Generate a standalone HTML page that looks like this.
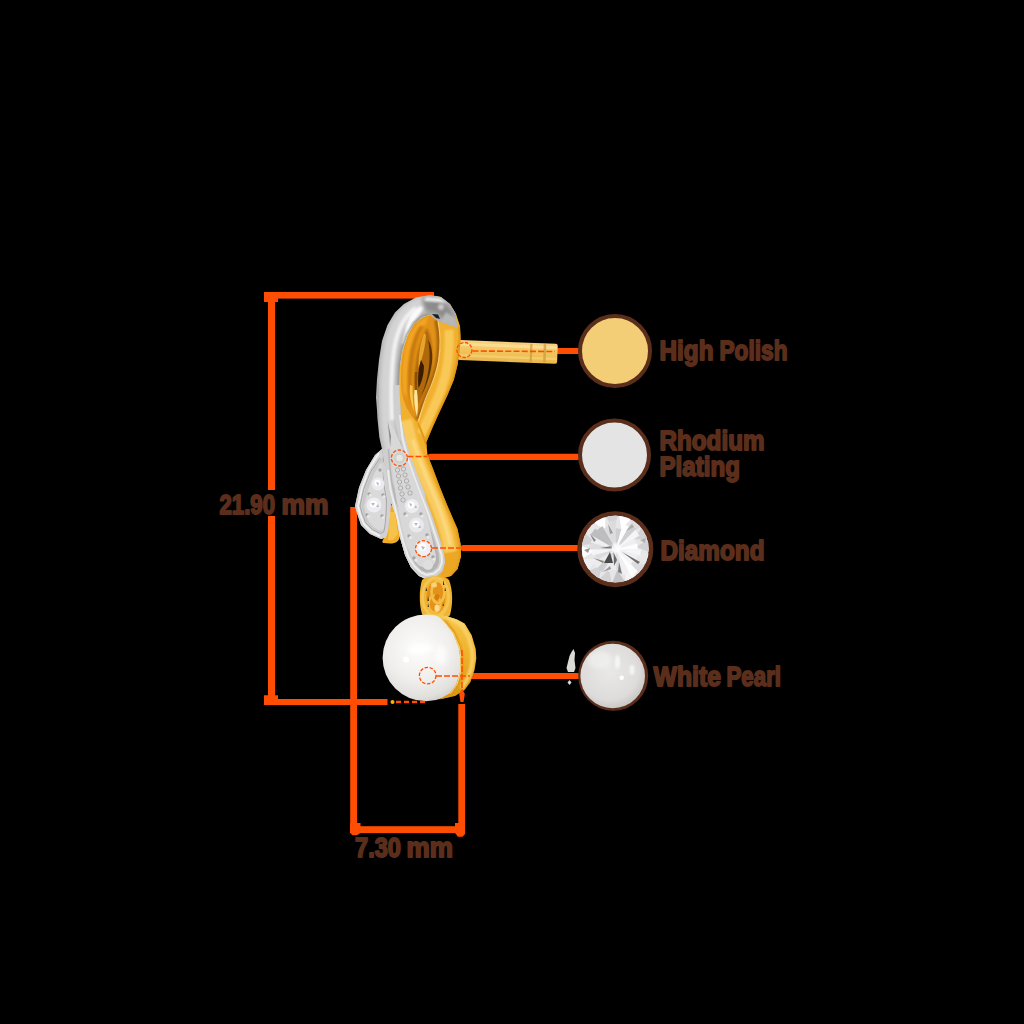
<!DOCTYPE html>
<html>
<head>
<meta charset="utf-8">
<title>Earring dimensions</title>
<style>
html,body{margin:0;padding:0;background:#000;}
body{width:1024px;height:1024px;overflow:hidden;font-family:"Liberation Sans",sans-serif;}
svg{display:block;}
text{font-family:"Liberation Sans",sans-serif;font-weight:bold;fill:#5b2e1c;stroke:#5b2e1c;stroke-width:1.8px;stroke-linejoin:round;}
</style>
</head>
<body>
<svg width="1024" height="1024" viewBox="0 0 1024 1024">
<defs>
  <linearGradient id="silverV" x1="0" y1="0" x2="1" y2="0">
    <stop offset="0" stop-color="#9a9a9a"/>
    <stop offset="0.25" stop-color="#e9e9e9"/>
    <stop offset="0.6" stop-color="#c9c9c9"/>
    <stop offset="1" stop-color="#8d8d8d"/>
  </linearGradient>
  <linearGradient id="goldR" x1="0" y1="0" x2="1" y2="0">
    <stop offset="0" stop-color="#e8a21c"/>
    <stop offset="0.5" stop-color="#fbc94a"/>
    <stop offset="1" stop-color="#e09a12"/>
  </linearGradient>
  <linearGradient id="goldIn" x1="0" y1="0" x2="1" y2="0">
    <stop offset="0" stop-color="#c97a08"/>
    <stop offset="0.45" stop-color="#f2a51c"/>
    <stop offset="1" stop-color="#f7b93a"/>
  </linearGradient>
  <linearGradient id="postG" x1="0" y1="0" x2="0" y2="1">
    <stop offset="0" stop-color="#f7d380"/>
    <stop offset="0.45" stop-color="#f3c55e"/>
    <stop offset="1" stop-color="#eab84a"/>
  </linearGradient>
  <radialGradient id="pearlG" cx="0.42" cy="0.4" r="0.65">
    <stop offset="0" stop-color="#fdfdfc"/>
    <stop offset="0.55" stop-color="#f0efed"/>
    <stop offset="0.85" stop-color="#e2e0dd"/>
    <stop offset="1" stop-color="#cdcbc7"/>
  </radialGradient>
  <radialGradient id="pearlS" cx="0.45" cy="0.42" r="0.6">
    <stop offset="0" stop-color="#e9e9e7"/>
    <stop offset="0.75" stop-color="#dddcda"/>
    <stop offset="1" stop-color="#c8c6c3"/>
  </radialGradient>
  <linearGradient id="capG" x1="0" y1="0" x2="0" y2="1">
    <stop offset="0" stop-color="#f7c648"/>
    <stop offset="0.5" stop-color="#eeb02a"/>
    <stop offset="1" stop-color="#d99512"/>
  </linearGradient>
</defs>

<rect width="1024" height="1024" fill="#000"/>

<!-- ======== dimension lines ======== -->
<g id="dims" fill="#ff4e03">
  <rect x="264" y="292" width="170" height="6.6"/>
  <path d="M264,294.5 L266.5,292 L278,292 L278,302 L264,302 Z"/>
  <rect x="268" y="292" width="7" height="413"/>
  <rect x="264" y="699" width="123.5" height="6"/>
  <path d="M264,695.3 L278,695.3 L278,705 L266.5,705 L264,702.5 Z"/>
  <rect x="350.2" y="507" width="6.8" height="326"/>
  <rect x="458.3" y="704" width="6.7" height="129"/>
  <rect x="350.2" y="826.2" width="114.8" height="6.8"/>
  <path d="M350.2,823 L360.5,823 L360.5,833 L357,835.3 L352.5,835.3 L350.2,833 Z"/>
  <path d="M455,823 L465,823 L465,834 L462.5,836.8 L458,836.8 L455,833 Z"/>
</g>
<rect x="214" y="490" width="120" height="26" fill="#000"/>

<!-- ======== callout lines ======== -->
<g id="callouts" stroke="#ff4e03" stroke-width="6.2" stroke-linecap="round" fill="none">
  <path d="M558,351 L577,351"/>
  <path d="M430.5,456.8 L577,456.8"/>
  <path d="M463.5,548 L577,548"/>
  <path d="M473,676 L577,676"/>
</g>

<!-- ======== earring ======== -->
<g id="earring">
  <defs>
    <filter id="b1" x="-20%" y="-20%" width="140%" height="140%"><feGaussianBlur stdDeviation="1"/></filter>
    <filter id="b2" x="-20%" y="-20%" width="140%" height="140%"><feGaussianBlur stdDeviation="2"/></filter>
    <filter id="b05" x="-20%" y="-20%" width="140%" height="140%"><feGaussianBlur stdDeviation="0.5"/></filter>
    <clipPath id="clipSilver"><path d="M430,295 L416,297.5 L404,304 L395,312.5 L387.5,325 L382,341 L379,360 L377,379 L376,397.5 L377,410 L377.5,419 L379.4,437.5 L382,449 L384,462.5 L386,481 L390,500 L396,515 L400,537.5 L405,555 L411,567.5 L419,576 L426,579 L435,577.5 L442.5,571 L445,562.5 L444,554 L441,542.5 L436,527.5 L431,512.5 L426,500 L425,494 L417.5,475 L410,455 L405,437.5 L401,419 L400,400 L399.5,385 L400,366 L402.5,350 L407.5,335 L414,324 L422.5,317 L430,315 L437.5,321 L457,327.5 L456,314 L450,304 L441,297 L436,296 Z"/></clipPath>
    <clipPath id="clipGold"><path d="M430,296 L436,296 L441,297 L450,304 L456,314 L460,326 L460.6,339 L459.5,352 L457.5,365 L453.75,380 L447.5,395 L440,411 L432.5,427.5 L426.25,442.5 L427.5,455 L432.5,467.5 L440,487.5 L447.5,506 L454,521 L457.5,529 L460.6,544 L461,556 L457.5,569 L451,576 L444,578 L436,579 L428,572 L430,560 L410,500 L395,450 L390,400 L400,330 Z"/></clipPath>
    <clipPath id="clipTear"><path d="M430,315.5 C425,315.5 418,320 413,326 C407,335 403,348 401.5,366 C400.5,380 401,392 404,401 C407,410 412,417 417,422.5 C420,414 425,402 429,392 C434,380 438.5,366 440,350 C441,338 439.5,326 437.5,321 C435.5,317.5 433,315.5 430,315.5 Z"/></clipPath>
    <clipPath id="clipTail"><path d="M382,449 L375,455 L366,470 L359,487.5 L355,506 L357,513 L361,525 L370,534 L381,539 L386,537.5 L388,531 L390,515 L391,500 L388,485 L386,470 L384,462.5 Z"/></clipPath>
  </defs>
  <!-- post -->
  <g transform="rotate(2.2 459 350)">
    <rect x="458" y="340" width="99.5" height="20" rx="2" fill="url(#postG)"/>
    <rect x="458" y="342.5" width="99" height="3" fill="#fbe09a" opacity="0.8"/>
    <rect x="458" y="354" width="99" height="2.5" fill="#f7d27a" opacity="0.7"/>
    <rect x="530" y="341" width="2.2" height="18" fill="#c99a3a" opacity="0.7"/>
    <rect x="543.5" y="341" width="2.5" height="18" fill="#c99a3a" opacity="0.7"/>
  </g>

  <!-- gold body -->
  <path id="goldBody" fill="#f1b030" d="M430,296 L436,296 L441,297 L450,304 L456,314 L460,326 L460.6,339 L459.5,352 L457.5,365 L453.75,380 L447.5,395 L440,411 L432.5,427.5 L426.25,442.5 L427.5,455 L432.5,467.5 L440,487.5 L447.5,506 L454,521 L457.5,529 L460.6,544 L461,556 L457.5,569 L451,576 L444,578 L436,579 L428,572 L430,560 L410,500 L395,450 L390,400 L400,330 Z"/>
  <g clip-path="url(#clipGold)">
    <!-- lighter stripe along upper right band -->
    <path fill="none" stroke="#f9c958" stroke-width="9" filter="url(#b1)" d="M449,330 C450,350 448,370 441,390 C435,405 428,420 421,434"/>
    <!-- darker right edge -->
    <path fill="none" stroke="#d98f10" stroke-width="3" filter="url(#b1)" d="M460,326 L460.6,339 L459.5,352 L457.5,365 L453.75,380 L447.5,395 L440,411 L432.5,427.5 L426.25,442.5"/>
    <!-- lower band: light stripe -->
    <path fill="none" stroke="#f9cb5e" stroke-width="12" filter="url(#b1)" d="M406,420 C410,440 418,462 428,485 C438,508 447,528 450,552"/>
    <path fill="none" stroke="#fcdc86" stroke-width="3" filter="url(#b1)" d="M413,440 C418,458 426,476 434,495 C441,512 447,528 450,545"/>
    <path fill="none" stroke="#dc9312" stroke-width="3" filter="url(#b1)" d="M427.5,455 L432.5,467.5 L440,487.5 L447.5,506 L454,521 L457.5,529 L460.6,544 L461,556 L457.5,569 L451,576"/>
    <!-- crossing crease -->
    <path fill="none" stroke="#e39a18" stroke-width="2" filter="url(#b05)" d="M418,423 C421,430 424,438 427,447"/>
    <!-- bottom right gold end -->
    <path fill="#e9a21c" d="M444,554 L462,550 L462,580 L440,580 Z" opacity="0.6"/>
  </g>
  <!-- small gold under left tail -->
  <path fill="#f0ac26" d="M388,503 L396,508 L400,535 C400,541 396,543.5 390,543.5 L384,543 C381.5,543 382,540.5 385,537 Z"/>
  <path fill="#f7c24a" d="M390,512 L395,512 L398,534 L393,540 L388,540 Z"/>

  <!-- inner teardrop -->
  <path id="tear" fill="#e29218" d="M430,315.5 C425,315.5 418,320 413,326 C407,335 403,348 401.5,366 C400.5,380 401,392 404,401 C407,410 412,417 417,422.5 C420,414 425,402 429,392 C434,380 438.5,366 440,350 C441,338 439.5,326 437.5,321 C435.5,317.5 433,315.5 430,315.5 Z"/>
  <g clip-path="url(#clipTear)">
    <path fill="#f2a424" filter="url(#b1)" d="M428,316 L418,322 L409,334 L404,352 L402,372 L403,392 L406.5,398 L408,372 L411,350 L417,334 L426,324 Z"/>
    <path fill="#c5780c" filter="url(#b1)" d="M420,326 C413,336 409,352 408,372 C407.5,388 409,398 412,406 C411,392 411.5,372 414,355 C416,342 419,333 424,326 Z"/>
    <path fill="none" stroke="#a8650a" stroke-width="5.5" filter="url(#b1)" d="M437,320 C440,334 440,348 438,361 C436,373 431.5,385 426.5,396 C424,402 421,410 418,420"/>
    <path fill="#b0680a" filter="url(#b1)" d="M427,328 C420,340 415.5,358 414.5,375 C414,390 415,400 417,408 C422.5,398 429,384 431.5,370 C433.5,354 432,338 427,328 Z"/>
    <path fill="#e9a42c" filter="url(#b05)" d="M424,333 C420,344 418,358 418.5,368 C422,360 425.5,346 426,335 Z"/>
    <path fill="#5a3205" filter="url(#b05)" d="M428,340 C430.5,352 430,366 426.5,380 C424.5,388 422,394 420,398 C424,392 430.5,376 432,362 C433,352 431,344 428,340 Z"/>
    <path fill="#3a1d00" filter="url(#b05)" d="M421,360 C418.5,368 417.5,378 418.5,388 C421.5,383 424,374 424,366 Z"/>
    <path fill="#8a4f06" filter="url(#b05)" d="M415,372 C414,382 415,392 416.5,398 C417,390 417,380 417.5,372 Z"/>
    <path fill="#ffe79a" filter="url(#b05)" d="M414.5,390 C413.5,398 414.5,408 417,417 C418.5,408 418,398 416.8,390 Z"/>
    <path fill="#f9c24a" filter="url(#b05)" d="M410,385 C409,394 411,404 414,411 C413,402 412.5,394 412.5,386 Z"/>
  </g>
  <path fill="none" stroke="#ffd76e" stroke-width="1.2" opacity="0.9" d="M438,321.5 C440.6,334 440.6,348 438.6,360.5 C436.6,372.5 432,384.5 427,395.5 C424.5,401.5 421.5,410.5 418.5,421"/>

  <!-- silver loop + band -->
  <path id="silverMain" fill="#b2b2b2" d="M430,295 L416,297.5 L404,304 L395,312.5 L387.5,325 L382,341 L379,360 L377,379 L376,397.5 L377,410 L377.5,419 L379.4,437.5 L382,449 L384,462.5 L386,481 L390,500 L396,515 L400,537.5 L405,555 L411,567.5 L419,576 L426,579 L435,577.5 L442.5,571 L445,562.5 L444,554 L441,542.5 L436,527.5 L431,512.5 L426,500 L425,494 L417.5,475 L410,455 L405,437.5 L401,419 L400,400 L399.5,385 L400,366 L402.5,350 L407.5,335 L414,324 L422.5,317 L430,315 L437.5,321 L457,327.5 L456,314 L450,304 L441,297 L436,296 Z"/>
  <g clip-path="url(#clipSilver)">
    <!-- tube shading: broad light band -->
    <path fill="none" stroke="#d4d4d4" stroke-width="15" filter="url(#b2)" d="M424,303 C408,308 396,322 391,345 C387,368 386,395 388,425 C390,445 394,465 400,485"/>
    <path fill="none" stroke="#f2f2f2" stroke-width="4" filter="url(#b1)" d="M416,308 C404,316 397,330 394,350 C391,372 391,398 392,420"/>
    <path fill="#fbfbfb" filter="url(#b1)" d="M406,326 L411,314 L419,306.5 L424,307 L420,314 L414,322 L410,334 L406,345 L402,344 Z"/>
    <!-- dark inner edge -->
    <path fill="none" stroke="#8f8f8f" stroke-width="3" filter="url(#b1)" d="M430,315 L422.5,317 L414,324 L407.5,335 L402.5,350 L400,366 L399.5,385 L400,400 L401,419 L405,437.5"/>
    <path fill="none" stroke="#ececec" stroke-width="1.2" d="M430,315.6 L422.5,317.6 L414.5,324.5 L408,335.5 L403,350 L400.6,366 L400.1,385 L400.6,400 L401.6,419 L405.5,437.5 L410.5,455 L418,475 L425.5,494"/>
    <!-- top dark -->
    <path fill="#8c8c8c" filter="url(#b2)" d="M422,299 L440,299 L452,310 L455,322 L446,322 L436,313 L426,311 Z"/>
    <path fill="#b8b8b8" filter="url(#b1)" d="M446,312 L455,318 L457,328 L440,322 Z"/>
    <path fill="#e8e8e8" filter="url(#b1)" d="M426,297 L440,298 L447,303 L436,302 L424,301 Z"/>
    <circle cx="441" cy="307" r="3" fill="#c9c9c9" filter="url(#b1)"/>
    <path fill="#1c1c1c" filter="url(#b05)" d="M432,314 L438,314.5 L440,319 L436,318 Z"/>
    <!-- lower band rim -->
    <path fill="none" stroke="#cfcfcf" stroke-width="12.5" stroke-linejoin="round" d="M383,449 L384,462.5 L386,481 L390,500 L396,515 L400,537.5 L405,555 L411,567.5 L419,576 L426,579 L435,577.5 L442.5,571 L445,562.5 L444,554 L441,542.5 L436,527.5 L431,512.5 L426,500 L425,494 L417.5,475 L410,455 L405,437.5 L401,419 L400,400 L399.5,385"/>
    <path fill="none" stroke="#b5b5b5" stroke-width="1.5" d="M388.5,449 L389.5,462 L391.5,481 L395.5,500 L401.5,515 L405.5,537 L410.5,553 L416,563.5 L421.5,569.5 L426,571.5 L432.5,570.5 L436.5,566.5 L438.5,562 L438,554.5 L435,544.5 L430,529.5 L425,514.5 L420,502 L419,496 L411.5,477 L404,457 L399.5,440"/>
    <path fill="none" stroke="#ececec" stroke-width="2" filter="url(#b05)" d="M388,470 L390.5,490 L395,507 L399,525 L403,541 L408,556 L414,566 L421,572.5 L426.5,575 L434,573.5 L439.5,569 L442,562 L441.5,555 L438,543 L433,528 L428,513 L423,500 L415,479 L408,459 L402.5,438 L400,415"/>
    <path fill="none" stroke="#fafafa" stroke-width="1.5" d="M385.5,481 L389.5,500 L395.5,515 L399.5,537.5 L404.5,555 L410.5,567.5 L418.5,576.3 L426,579.2 L435.5,577.8"/>
  </g>

  <!-- left tail -->
  <path id="silverTail" fill="#c9c9c9" d="M382,449 L375,455 L366,470 L359,487.5 L355,506 L357,513 L361,525 L370,534 L381,539 L386,537.5 L388,531 L390,515 L391,500 L388,485 L386,470 L384,462.5 Z"/>
  <g clip-path="url(#clipTail)">
    <path fill="none" stroke="#d2d2d2" stroke-width="12" stroke-linejoin="round" d="M382,449 L375,455 L366,470 L359,487.5 L355,506 L357,513 L361,525 L370,534 L381,539 L386,537.5 L388,531 L390,515 L391,500 L388,485 L386,470 L384,462.5"/>
    <path fill="none" stroke="#f0f0f0" stroke-width="2" filter="url(#b05)" d="M379,453 L369,469 L362,488 L358,506 L360,514 L364,524 L371,531.5 L380,536"/>
    <path fill="none" stroke="#a6a6a6" stroke-width="1" d="M380,458 L370.5,472 L363.5,489.5 L360,506 L362,513 L365.5,522.5 L372.5,529.5 L380.5,533.5 L383.5,532 L384.5,529 L386,515 L386.5,500 L384,486 L382.5,472"/>
  </g>
</g>

<g id="lower">
  <!-- pave: main band channel -->
  <path fill="#d8d8d8" d="M387.8,420 L388.5,428 L389.8,440 L391.2,455 L393,470 L394.5,487.5 L397.5,505 L401.5,525 L406.5,545 L412,557.5 L418.5,565.5 L426,568.5 L432,566.5 L435.5,562 L436,555 L433.5,545 L430,528 L424.5,507 L417.5,487.5 L411,470 L405,455 L399,440 L393,428 Z"/>
    <path fill="#8d8d8d" d="M387.6,421 L389,434 L390.2,447 L391,436 Z"/>
  <!-- milgrain beads -->
  <g fill="#d9d9d9" stroke="#8f8f8f" stroke-width="0.6">
    <circle cx="397.5" cy="470" r="2.2"/><circle cx="403.5" cy="469" r="2.2"/>
    <circle cx="398.5" cy="476" r="2.2"/><circle cx="405" cy="475" r="2.2"/>
    <circle cx="399.5" cy="482" r="2.2"/><circle cx="406.5" cy="481" r="2.2"/>
    <circle cx="400.5" cy="488" r="2.2"/><circle cx="408" cy="487" r="2.2"/>
    <circle cx="402" cy="494" r="2.2"/><circle cx="410" cy="493" r="2.2"/>
    <circle cx="403" cy="500" r="2.2"/>
  </g>
  <!-- diamonds main band -->
  <g>
    <circle cx="399.5" cy="458" r="5.5" fill="#cfcfcb"/>
    <circle cx="399.5" cy="458" r="3.2" fill="#e6e6e2"/>
    <circle cx="412" cy="506" r="7" fill="#ededf0"/>
    <circle cx="416.5" cy="525" r="7.5" fill="#e9e9ed"/>
    <circle cx="423" cy="548" r="8" fill="#f0f0f4"/>
    <circle cx="428" cy="565" r="5" fill="#dedede"/>
    <g fill="#ffffff">
      <circle cx="411" cy="505" r="3.4"/><circle cx="416" cy="524" r="3.6"/><circle cx="422.5" cy="547" r="3.8"/>
    </g>
    <g fill="#b9b9c2">
      <path d="M409,503 l3,1 l-1,3 z"/><path d="M414,523 l4,0 l-2,3 z"/><path d="M421,546 l4,1 l-2,3 z"/>
      <path d="M414,508 l2,-3 l1,3 z"/><path d="M418,528 l2,-3 l1,3 z"/>
    </g>
    <g fill="#a3a3a3">
      <circle cx="405" cy="514" r="1.7"/><circle cx="421" cy="514" r="1.7"/>
      <circle cx="409" cy="536" r="1.7"/><circle cx="427" cy="535" r="1.7"/>
      <circle cx="414" cy="558" r="1.7"/><circle cx="433" cy="557" r="1.7"/>
    </g>
    <g fill="#e8e8e8">
      <circle cx="406.5" cy="515.5" r="1.6"/><circle cx="422" cy="516" r="1.6"/>
      <circle cx="410.5" cy="537.5" r="1.6"/><circle cx="428" cy="537" r="1.6"/>
      <circle cx="416" cy="560" r="1.6"/><circle cx="434" cy="559" r="1.6"/>
    </g>
  </g>
  <!-- pave: left tail -->
  <path fill="#dadada" d="M381,463 L374.5,473 L368,490 L364,506 L365.5,514 L368.5,521.5 L374,527.5 L380,530.5 L383.5,529 L385,520 L385.5,503 L384,488 L382.5,472 Z"/>
  <g>
    <circle cx="378" cy="484" r="6.5" fill="#ebebef"/>
    <circle cx="374" cy="505" r="7.5" fill="#eeeef2"/>
    <circle cx="377.5" cy="483" r="3.2" fill="#fff"/>
    <circle cx="373.5" cy="504" r="3.6" fill="#fff"/>
    <circle cx="377" cy="523" r="3.5" fill="#dadada"/>
    <g fill="#b9b9c2"><path d="M376,482 l3,1 l-1,3 z"/><path d="M371,503 l4,0 l-2,3 z"/><path d="M376,507 l2,-3 l1,3 z"/></g>
    <g fill="#a3a3a3">
      <circle cx="369" cy="494" r="1.7"/><circle cx="383" cy="495" r="1.7"/>
      <circle cx="367" cy="515" r="1.7"/><circle cx="382" cy="516" r="1.7"/>
      <circle cx="380" cy="470" r="1.7"/>
    </g>
    <g fill="#e8e8e8">
      <circle cx="370.2" cy="495.3" r="1.5"/><circle cx="384" cy="496.5" r="1.5"/>
      <circle cx="368.3" cy="516.3" r="1.5"/><circle cx="383" cy="517.5" r="1.5"/>
    </g>
  </g>

  <!-- jump ring / chain -->
  <g>
    <path fill="#efb434" d="M422,580 C419,590 419,604 422,614 C426,620 446,621 450,615 C453,604 453,590 449,580 C443,575 428,575 422,580 Z"/>
    <ellipse cx="436" cy="597" rx="9.5" ry="16" fill="#e4921a"/>
    <ellipse cx="435.5" cy="597" rx="13" ry="19" fill="none" stroke="#f5c552" stroke-width="3"/>
    <ellipse cx="438" cy="592" rx="6.5" ry="11" fill="none" stroke="#f4bf48" stroke-width="2.6"/>
    <ellipse cx="434.5" cy="604" rx="6" ry="8.5" fill="none" stroke="#f3bb40" stroke-width="2.6"/>
    <ellipse cx="437" cy="608" rx="2.5" ry="3.5" fill="#f9dc8e"/>
    <ellipse cx="434" cy="585" rx="3" ry="2.5" fill="#f7d277"/>
    <path d="M426,587 l1.2,4 l-1.5,0 z M428,596 l1,5 l-1.5,0 z M443,580 l1.5,5 l-1.5,0 z M445,587 l1,4 l-1.4,0 z M428,603 l1,4 l-1.3,0z M443,603 l1,3 l-1.3,0z" fill="#3a2a08"/>
    <ellipse cx="437" cy="597" rx="2.5" ry="3" fill="#d47e0c"/>
  </g>

  <!-- pearl -->
  <circle cx="426" cy="657.8" r="43.4" fill="url(#pearlG)"/>
  <ellipse cx="420" cy="649" rx="13" ry="5" fill="#ffffff" opacity="0.9" filter="url(#b2)" transform="rotate(-6 420 649)"/>
  <circle cx="406" cy="659.5" r="3" fill="#ffffff" filter="url(#b05)"/>
  <ellipse cx="441" cy="655" rx="6" ry="10" fill="#ffffff" opacity="0.7" filter="url(#b2)"/>
  <!-- pearl cap -->
  <path id="capShape" fill="url(#capG)" d="M438,616 L441,615 L448,616.4 L457,619.5 L464.5,623.4 L471.6,635 L475.7,649 L476.3,658.6 L474.5,670 L470.4,682 L464.5,690 L455,696 L443.4,698.5 L439,699.6 L449.3,693.8 L456.3,684.4 L459.9,672.7 L460.4,658.6 L458.7,646.9 L452.8,632.8 L443.4,621 Z"/>
  <clipPath id="clipCap"><path d="M438,616 L441,615 L448,616.4 L457,619.5 L464.5,623.4 L471.6,635 L475.7,649 L476.3,658.6 L474.5,670 L470.4,682 L464.5,690 L455,696 L443.4,698.5 L439,699.6 L449.3,693.8 L456.3,684.4 L459.9,672.7 L460.4,658.6 L458.7,646.9 L452.8,632.8 L443.4,621 Z"/></clipPath>
  <g clip-path="url(#clipCap)">
    <path fill="none" stroke="#dd9616" stroke-width="5" filter="url(#b1)" d="M443.4,621 L452.8,632.8 L458.7,646.9 L460.4,658.6 L459.9,672.7 L456.3,684.4 L449.3,693.8 L441,698.5"/>
    <path fill="none" stroke="#f8cf66" stroke-width="4" filter="url(#b1)" d="M452,619 L462,626 L468.5,637 L472,650 L472.5,659 L471,669 L467,680 L461.5,688"/>
    <path fill="#f9d574" filter="url(#b1)" d="M441,615 L448,616.4 L457,619.5 L464.5,623.4 L468,629 L458,623 L447,619 Z"/>
    <path fill="#d38f10" filter="url(#b2)" d="M440,703 L455,699 L466,691 L472,679 L476,679 L470,695 L455,704 Z"/>
  </g>
  <path fill="none" stroke="#fbe092" stroke-width="1" opacity="0.9" d="M444,621.3 L453.4,633 L459.3,647 L461,658.6 L460.5,672.7 L457,684.4 L450,693.8"/>
</g>

<!-- dashed callout details -->
<g id="dashes" fill="none" stroke="#ff4e03">
  <circle cx="464.4" cy="350" r="7.5" stroke-width="1.3" stroke-dasharray="3.5 1.6"/>
  <path d="M472.5,351 L555,351.5" stroke-width="1.6" stroke-dasharray="6 2.2"/>
  <circle cx="399.4" cy="458" r="8" stroke-width="1.3" stroke-dasharray="3.5 1.6"/>
  <path d="M407.5,456.5 L427.5,456.5" stroke-width="1.4" stroke-dasharray="6 2"/>
  <circle cx="423.5" cy="548.7" r="8" stroke-width="1.3" stroke-dasharray="3.5 1.6"/>
  <path d="M432,548 L460.6,548" stroke-width="1.4" stroke-dasharray="6 2"/>
  <circle cx="427.7" cy="675.6" r="8.3" stroke-width="1.3" stroke-dasharray="3.5 1.6"/>
  <path d="M436,676 L470,676" stroke-width="1.6" stroke-dasharray="6 2"/>
  <path d="M462,650 L462,688" stroke-width="1.6" stroke-dasharray="6 2"/>
  <path d="M396,702 L427,702" stroke-width="2.4" stroke-dasharray="5 3"/>
</g>
<g fill="#ff4e03">
  <path d="M462,688.5 L464.8,694 L463.5,702 L460.5,702 L459.2,694 Z"/>
  <circle cx="392.5" cy="702" r="2" fill="#ffb000"/>
</g>

<!-- ======== swatches ======== -->
<g id="swatches">
  <circle cx="615" cy="351" r="35" fill="#f3ce77" stroke="#5b2e1c" stroke-width="4"/>
  <circle cx="614.5" cy="455" r="34.5" fill="#e4e4e4" stroke="#5b2e1c" stroke-width="4"/>
  <circle cx="615.3" cy="549.2" r="35.5" fill="#e0e0e0" stroke="#5b2e1c" stroke-width="5"/>
  <clipPath id="clipDia"><circle cx="615.3" cy="549" r="33.5"/></clipPath>
  <g clip-path="url(#clipDia)">
  <circle cx="615.3" cy="549" r="33.5" fill="#e6e6e6"/>
  <path d="M650.3,552.5 L646.3,565.6 L635.2,555.1 Z" fill="#e8e8eb"/>
  <path d="M646.3,565.6 L637.6,576.2 L631.3,562.2 Z" fill="#dcdcdf"/>
  <path d="M637.6,576.2 L625.4,582.7 L625.1,567.3 Z" fill="#f4f4f7"/>
  <path d="M625.4,582.7 L611.8,584.0 L617.3,569.7 Z" fill="#c4c4c7"/>
  <path d="M611.8,584.0 L598.7,580.0 L609.2,568.9 Z" fill="#d2d2d5"/>
  <path d="M598.7,580.0 L588.1,571.3 L602.1,565.0 Z" fill="#d2d2d5"/>
  <path d="M588.1,571.3 L581.6,559.1 L597.0,558.8 Z" fill="#eeeef1"/>
  <path d="M581.6,559.1 L580.3,545.5 L594.6,551.0 Z" fill="#ffffff"/>
  <path d="M580.3,545.5 L584.3,532.4 L595.4,542.9 Z" fill="#d2d2d5"/>
  <path d="M584.3,532.4 L593.0,521.8 L599.3,535.8 Z" fill="#e8e8eb"/>
  <path d="M593.0,521.8 L605.2,515.3 L605.5,530.7 Z" fill="#ffffff"/>
  <path d="M605.2,515.3 L618.8,514.0 L613.3,528.3 Z" fill="#d2d2d5"/>
  <path d="M618.8,514.0 L631.9,518.0 L621.4,529.1 Z" fill="#ffffff"/>
  <path d="M631.9,518.0 L642.5,526.7 L628.5,533.0 Z" fill="#dcdcdf"/>
  <path d="M642.5,526.7 L649.0,538.9 L633.6,539.2 Z" fill="#d2d2d5"/>
  <path d="M649.0,538.9 L650.3,552.5 L636.0,547.0 Z" fill="#d2d2d5"/>
  <path d="M615.9,549.3 L641.1,549.3 L640.2,555.8 Z" fill="#f6f6f8" opacity="0.9"/>
  <path d="M615.9,549.3 L638.0,555.2 L635.8,560.8 Z" fill="#f0f0f2" opacity="0.9"/>
  <path d="M615.9,549.3 L633.9,559.7 L630.6,564.0 Z" fill="#f6f6f8" opacity="0.9"/>
  <path d="M615.9,549.3 L638.0,571.4 L631.5,576.3 Z" fill="#ffffff" opacity="0.9"/>
  <path d="M615.9,549.3 L629.3,572.6 L622.9,575.3 Z" fill="#f0f0f2" opacity="0.9"/>
  <path d="M615.9,549.3 L621.3,569.3 L615.9,570.0 Z" fill="#dcdcde" opacity="0.9"/>
  <path d="M615.9,549.3 L615.9,569.9 L610.6,569.2 Z" fill="#ececee" opacity="0.9"/>
  <path d="M615.9,549.3 L609.8,572.0 L604.2,569.6 Z" fill="#ececee" opacity="0.9"/>
  <path d="M615.9,549.3 L602.7,572.2 L597.2,568.0 Z" fill="#ccccce" opacity="0.9"/>
  <path d="M615.9,549.3 L597.0,568.2 L592.8,562.6 Z" fill="#ececee" opacity="0.9"/>
  <path d="M615.9,549.3 L597.4,560.0 L595.3,554.8 Z" fill="#dcdcde" opacity="0.9"/>
  <path d="M615.9,549.3 L592.3,555.6 L591.4,549.3 Z" fill="#f6f6f8" opacity="0.9"/>
  <path d="M615.9,549.3 L589.2,549.3 L590.1,542.4 Z" fill="#dcdcde" opacity="0.9"/>
  <path d="M615.9,549.3 L590.9,542.6 L593.5,536.3 Z" fill="#f0f0f2" opacity="0.9"/>
  <path d="M615.9,549.3 L590.6,534.7 L595.2,528.6 Z" fill="#b8b8ba" opacity="0.9"/>
  <path d="M615.9,549.3 L596.8,530.2 L602.4,525.9 Z" fill="#b8b8ba" opacity="0.9"/>
  <path d="M615.9,549.3 L603.7,528.2 L609.6,525.8 Z" fill="#dcdcde" opacity="0.9"/>
  <path d="M615.9,549.3 L608.3,520.9 L615.9,519.9 Z" fill="#dcdcde" opacity="0.9"/>
  <path d="M615.9,549.3 L615.9,528.2 L621.4,529.0 Z" fill="#ccccce" opacity="0.9"/>
  <path d="M615.9,549.3 L622.7,523.9 L629.0,526.6 Z" fill="#ffffff" opacity="0.9"/>
  <path d="M615.9,549.3 L630.2,524.5 L636.2,529.0 Z" fill="#ccccce" opacity="0.9"/>
  <path d="M615.9,549.3 L635.2,530.0 L639.5,535.7 Z" fill="#f6f6f8" opacity="0.9"/>
  <path d="M615.9,549.3 L634.5,538.6 L636.7,543.7 Z" fill="#f0f0f2" opacity="0.9"/>
  <path d="M615.9,549.3 L637.2,543.6 L637.9,549.3 Z" fill="#ffffff" opacity="0.9"/>
  <path d="M610,552 L604,563 L613,563 Z" fill="#4a4a4a"/>
  <path d="M613.5,552 L617,560 L614,566 Z" fill="#6a6a6a"/>
  <path d="M622,552 L640,562 L638,564 Z" fill="#6e6e6e"/>
  <path d="M600,548 L612,546 L612,548.5 Z" fill="#777"/>
  <path d="M593,558 L604,561 L603,563 Z" fill="#888"/>
  <path d="M619,562 L622,574 L618,572 Z" fill="#7a7a7a"/>
  <path d="M590,534 L596,540 L594,542 Z" fill="#8a8a8a"/>
  <path d="M608,524 L613,533 L610,534 Z" fill="#9a9a9a"/>
  <path d="M626,531 L632,524 L634,527 Z" fill="#aaa"/>
  <path d="M603,572 L610,566 L611,569 Z" fill="#9a9a9a"/>
  <path d="M584,550 L590,548 L588,553 Z" fill="#999"/>
  <path d="M640,540 L646,538 L645,543 Z" fill="#b0b0b0"/>
  <circle cx="616.3" cy="548" r="5" fill="#ffffff" opacity="0.8" filter="url(#b1)"/>
  </g>
  <circle cx="613.2" cy="675.8" r="35" fill="#5b2e1c"/>
  <circle cx="612.7" cy="676" r="32.3" fill="url(#pearlS)"/>
  <ellipse cx="617.5" cy="662" rx="2.5" ry="7" fill="#fff" opacity="0.7" filter="url(#b1)"/>
  <ellipse cx="632" cy="670" rx="2.5" ry="5" fill="#fff" opacity="0.7" filter="url(#b1)"/>
  <circle cx="621.7" cy="677.8" r="2.2" fill="#fff" filter="url(#b05)"/>
  <ellipse cx="600" cy="660" rx="12" ry="9" fill="#f4f4f2" opacity="0.6" filter="url(#b2)"/>
  <path d="M573.5,649 L575,653 L574.5,660 L575.5,668 L574,672 L568,672 L566.5,668 L568,662 L569.5,656 L571.5,652 Z" fill="#dcdad5"/>
  <path d="M569.5,680 L571.5,682.5 L569.5,685 L567.5,682.5 Z" fill="#dcdad5"/>
</g>

<!-- ======== labels ======== -->
<g id="labels" font-size="27">
  <text x="659.5" y="359.5" textLength="54" lengthAdjust="spacingAndGlyphs">High</text>
  <text x="719.5" y="359.5" textLength="68" lengthAdjust="spacingAndGlyphs">Polish</text>
  <text x="659.5" y="450" textLength="105" lengthAdjust="spacingAndGlyphs">Rhodium</text>
  <text x="659.5" y="476" textLength="80.5" lengthAdjust="spacingAndGlyphs">Plating</text>
  <text x="660.5" y="560" textLength="104" lengthAdjust="spacingAndGlyphs">Diamond</text>
  <text x="653.5" y="686" textLength="67.5" lengthAdjust="spacingAndGlyphs">White</text>
  <text x="726.5" y="686" textLength="54.5" lengthAdjust="spacingAndGlyphs">Pearl</text>
  <text x="219.5" y="513.5" textLength="55.5" lengthAdjust="spacingAndGlyphs">21.90</text>
  <text x="281.5" y="513.5" textLength="47" lengthAdjust="spacingAndGlyphs">mm</text>
  <text x="355" y="857" textLength="46" lengthAdjust="spacingAndGlyphs">7.30</text>
  <text x="406.5" y="857" textLength="46.5" lengthAdjust="spacingAndGlyphs">mm</text>
</g>
</svg>
</body>
</html>
